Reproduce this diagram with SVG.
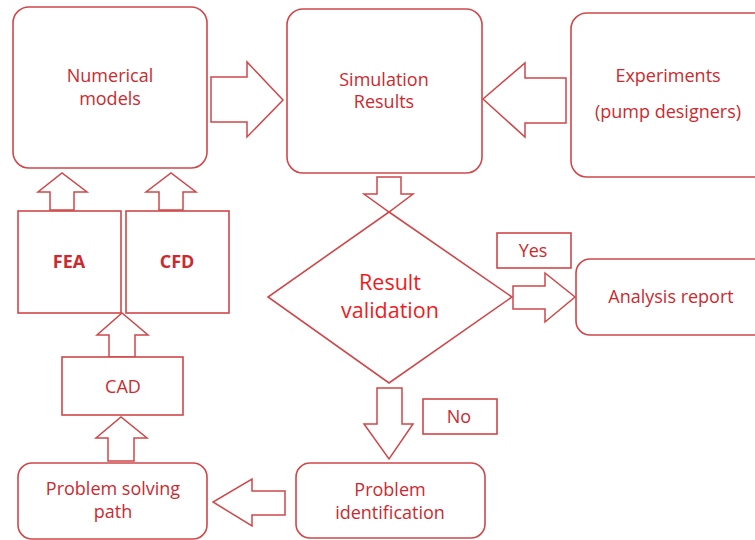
<svg xmlns="http://www.w3.org/2000/svg" width="755" height="540" viewBox="0 0 755 540">
<style>
.b{fill:#fff;stroke:#d0474a;stroke-width:1.6}
.a{fill:#fff;stroke:#d0474a;stroke-width:1.5;stroke-linejoin:miter}
.t{font-family:"Open Sans","Liberation Sans",Arial,sans-serif;font-size:18px;fill:#cc2a2e;text-anchor:middle}
.bold{font-weight:bold}
.big{font-size:21.5px;fill:#ee1c22}
</style>
<rect width="755" height="540" fill="#fff"/>
<g id="connectors">
<polygon class="a" points="211,77 247,77 247,62 283,100 247,137 247,122 211,122"/>
<polygon class="a" points="566,78 525,78 525,63 483,99 525,137 525,123 566,123"/>
<polygon class="a" points="377,177 401,177 401,194 413,194 389,212 364,194 377,194"/>
<polygon class="a" points="513,286 545,286 545,273 575,297 545,322 545,309 513,309"/>
<polygon class="a" points="377,388 402,388 402,424 413,424 389,459 364,424 377,424"/>
<polygon class="a" points="285,491 252,491 252,479 213,502 252,526 252,515 285,515"/>
<polygon class="a" points="108,461 108,438 96,438 121,417 147,438 134,438 134,461"/>
<polygon class="a" points="109,357 109,335 97,335 122,313 148,335 135,335 135,357"/>
<polygon class="a" points="50,210 50,192 38,192 62,173 87,192 74,192 74,210"/>
<polygon class="a" points="159,210 159,192 146,192 171,173 196,192 183,192 183,210"/>
</g>
<g id="numerical">
<rect class="b" x="13" y="7" width="194" height="161" rx="16"/>
<text class="t" x="110" y="82">Numerical</text>
<text class="t" x="110" y="105">models</text>
</g>
<g id="simulation">
<rect class="b" x="287" y="9" width="195" height="164" rx="16"/>
<text class="t" x="384" y="86">Simulation</text>
<text class="t" x="384" y="108">Results</text>
</g>
<g id="experiments">
<rect class="b" x="571" y="13" width="200" height="164" rx="16"/>
<text class="t" x="668" y="82">Experiments</text>
<text class="t" x="668" y="118">(pump designers)</text>
</g>
<g id="fea">
<rect class="b" x="18" y="211" width="103" height="102"/>
<text class="t bold" x="69" y="268">FEA</text>
</g>
<g id="cfd">
<rect class="b" x="126" y="211" width="103" height="102"/>
<text class="t bold" x="177" y="268">CFD</text>
</g>
<g id="validation">
<polygon class="b" points="389,212 512,297 389,383 268,297"/>
<text class="t big" x="390" y="290">Result</text>
<text class="t big" x="390" y="318">validation</text>
</g>
<g id="yes">
<rect class="b" x="497" y="233" width="74" height="35"/>
<text class="t" x="533" y="257">Yes</text>
</g>
<g id="analysis">
<rect class="b" x="576" y="259" width="200" height="76" rx="14"/>
<text class="t" x="671" y="303">Analysis report</text>
</g>
<g id="no">
<rect class="b" x="423" y="399" width="74" height="35"/>
<text class="t" x="459" y="423">No</text>
</g>
<g id="identification">
<rect class="b" x="296" y="463" width="189" height="75" rx="14"/>
<text class="t" x="390" y="496">Problem</text>
<text class="t" x="390" y="519">identification</text>
</g>
<g id="solving">
<rect class="b" x="18" y="463" width="189" height="76" rx="14"/>
<text class="t" x="113" y="495">Problem solving</text>
<text class="t" x="113" y="518">path</text>
</g>
<g id="cad">
<rect class="b" x="62" y="357" width="121" height="58"/>
<text class="t" x="123" y="393">CAD</text>
</g>
</svg>
